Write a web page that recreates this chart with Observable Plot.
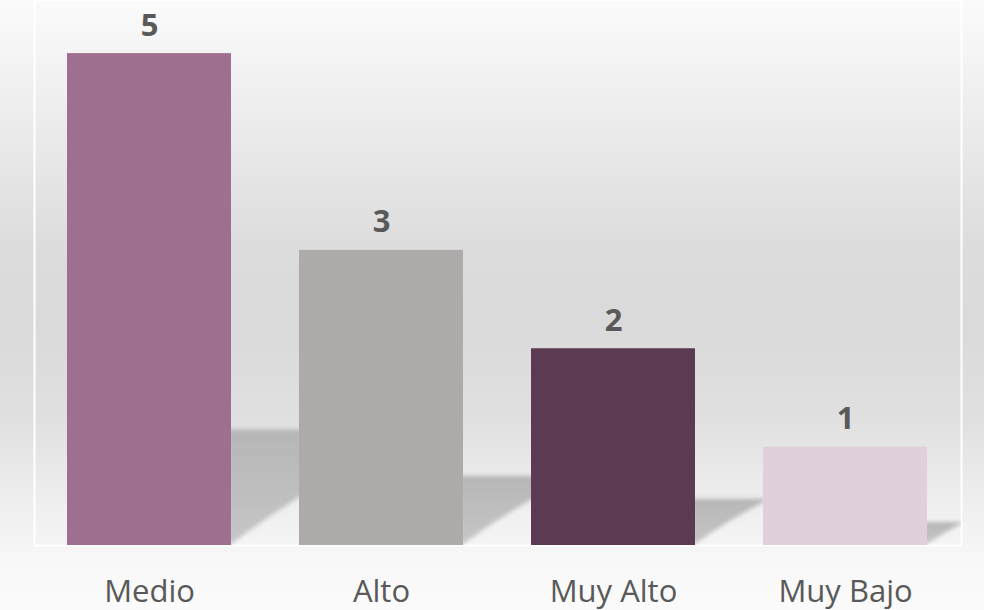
<!DOCTYPE html>
<html>
<head>
<meta charset="utf-8">
<script src="https://cdn.jsdelivr.net/npm/d3@7"></script>
<script src="https://cdn.jsdelivr.net/npm/@observablehq/plot@0.6"></script>
<style>
  html, body { margin: 0; padding: 0; }
  body {
    width: 984px; height: 610px; overflow: hidden;
    background: linear-gradient(to bottom, #fbfbfb 0px, #ececec 120px, #dcdcdc 250px, #dadada 330px, #e0e0e0 420px, #e9e9e9 470px, #f4f4f4 540px, #f8f8f8 560px, #fbfbfb 610px);
    font-family: "Open Sans", sans-serif;
  }
  svg { background: transparent !important; display: block; }
  #chart svg g[aria-label^="x-axis"] text { font-size: 31px; fill: #595959; }
</style>
</head>
<body>
<div id="chart"></div>
<script>
const categories = ["Medio", "Alto", "Muy Alto", "Muy Bajo"];
const values = [5, 3, 2, 1];
const colors = ["#9e6f8f", "#aeaaa9", "#5c3a51", "#e0d0dc"];

const data = categories.map((c, i) => ({category: c, value: values[i]}));

const chart = Plot.plot({
  width: 984,
  height: 610,
  marginLeft: 34,
  marginRight: 23,
  marginTop: 0,
  marginBottom: 65,
  style: {background: "transparent", fontFamily: "'Open Sans', sans-serif", color: "#595959"},
  x: {domain: categories, paddingInner: 0.293, paddingOuter: 0.142, label: null, tickSize: 0, tickPadding: 34},
  y: {domain: [0, 5.54], axis: null},
  color: {domain: categories, range: colors},
  marks: [
    Plot.frame({stroke: "#ffffff", strokeWidth: 2}),
    Plot.barY(data, {x: "category", y: "value", fill: "category"}),
    Plot.text(data, {x: "category", y: "value", text: d => String(d.value), dy: -18, lineAnchor: "bottom",
      fontSize: 31, fontWeight: "bold", fill: "#595959"})
  ]
});

document.getElementById("chart").appendChild(chart);

// axis label styling
d3.select(chart).selectAll("g[aria-label^='x-axis']")
  .attr("font-size", 31).style("font-size", "31px").attr("fill", "#595959");
d3.select(chart).selectAll("g[aria-label^='x-axis'] text")
  .style("font-size", "31px").attr("fill", "#595959");

// perspective shadows, computed from the library's scales
const xs = chart.scale("x");
const ys = chart.scale("y");
const bw = xs.bandwidth;
const base = ys.apply(0);
const rightEdge = 984 - 23;
const svg = d3.select(chart);
const defs = svg.insert("defs", ":first-child");
defs.append("filter").attr("id", "shblur").attr("x", "-20%").attr("y", "-20%").attr("width", "140%").attr("height", "140%")
  .append("feGaussianBlur").attr("stdDeviation", 2.2);
const grad = defs.append("linearGradient").attr("id", "shgrad").attr("x1", 0).attr("y1", 0).attr("x2", 0).attr("y2", 1);
grad.append("stop").attr("offset", "0%").attr("stop-color", "#b6b6b6");
grad.append("stop").attr("offset", "100%").attr("stop-color", "#c6c6c6");
defs.append("clipPath").attr("id", "shclip").append("rect")
  .attr("x", 34).attr("y", 0).attr("width", rightEdge - 34).attr("height", base);

const barGroup = svg.select("g[aria-label='bar']").node();
const sg = svg.insert("g", () => barGroup).attr("clip-path", "url(#shclip)");
data.forEach(d => {
  const x1 = xs.apply(d.category) + bw;
  const h = (base - ys.apply(d.value)) * 0.235;
  const top = base - h;
  const w = h / 0.62;
  sg.append("path")
    .attr("d", `M${x1 - 3},${base - 1}L${x1 - 3},${top}L${x1 + w},${top}Q${x1 + w * 0.45},${top + h * 0.45} ${x1},${base - 1}Z`)
    .attr("fill", "url(#shgrad)")
    .attr("filter", "url(#shblur)");
});
</script>
</body>
</html>
